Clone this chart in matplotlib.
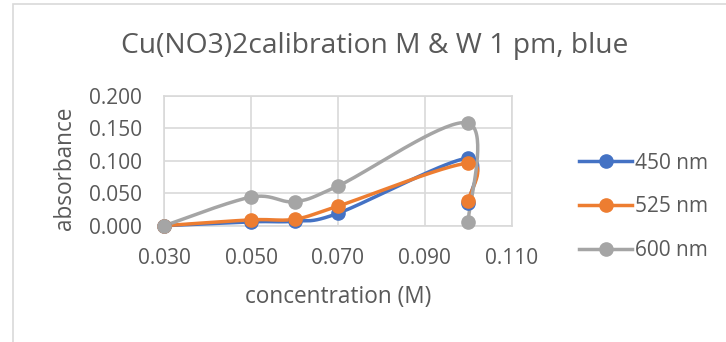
import numpy as np
import matplotlib
matplotlib.use("Agg")
import matplotlib.pyplot as plt
from matplotlib.patches import Rectangle

conc = [0.03, 0.05, 0.06, 0.07, 0.10, 0.10]
abs_450 = [0.000, 0.006, 0.007, 0.019, 0.104, 0.035]
abs_525 = [0.000, 0.009, 0.010, 0.030, 0.096, 0.038]
abs_600 = [0.000, 0.044, 0.037, 0.061, 0.158, 0.005]
series_names = ["450 nm", "525 nm", "600 nm"]
colors = ["#4472C4", "#ED7D31", "#A5A5A5"]
x_ticks = [0.03, 0.05, 0.07, 0.09, 0.11]
y_ticks = [0.0, 0.05, 0.10, 0.15, 0.20]
title = "Cu(NO3)2calibration M & W 1 pm, blue"

plt.rcParams['font.family'] = ['Open Sans', 'DejaVu Sans']
W, H = 726, 342
fig = plt.figure(figsize=(W / 100, H / 100), dpi=100)
fig.patch.set_facecolor("white")

# chart frame
fig.add_artist(Rectangle((12.5 / W, -0.1), 1.2, 1.1 - 4.5 / H, transform=fig.transFigure,
                         fill=False, edgecolor="#D9D9D9", linewidth=1.2))

L, R, T, B = 164.3, 511.5, 95.7, 225.7
ax = fig.add_axes([L / W, 1 - B / H, (R - L) / W, (B - T) / H])
ax.set_xlim(0.03, 0.11)
ax.set_ylim(0.0, 0.2)
ax.set_xticks(x_ticks)
ax.set_yticks(y_ticks)
ax.set_xticklabels([f"{v:.3f}" for v in x_ticks])
ax.set_yticklabels([f"{v:.3f}" for v in y_ticks])
ax.tick_params(length=0, labelsize=15, labelcolor="#595959", pad=16)
ax.grid(True, color="#D9D9D9", linewidth=1.2)
ax.set_axisbelow(True)
for s in ax.spines.values():
    s.set_color("#D9D9D9")
    s.set_linewidth(1.2)


def smooth(xs, ys, n=40):
    pts = ax.transData.transform(np.column_stack([xs, ys]))
    P = np.vstack([pts[0], pts, pts[-1]])
    out = []
    for i in range(1, len(P) - 2):
        p0, p1, p2, p3 = P[i - 1], P[i], P[i + 1], P[i + 2]
        c1 = p1 + (p2 - p0) / 6.0
        c2 = p2 - (p3 - p1) / 6.0
        t = np.linspace(0, 1, n)[:, None]
        seg = ((1 - t) ** 3) * p1 + 3 * ((1 - t) ** 2) * t * c1 + 3 * (1 - t) * t ** 2 * c2 + t ** 3 * p2
        out.append(seg if i == 1 else seg[1:])
    d = np.vstack(out)
    return ax.transData.inverted().transform(d).T


handles = []
for ys, name, c in zip([abs_450, abs_525, abs_600], series_names, colors):
    sx, sy = smooth(conc, ys)
    ax.plot(sx, sy, color=c, linewidth=2.5, solid_capstyle="round", zorder=3, clip_on=False)
    ax.plot(conc, ys, linestyle="none", marker="o", markersize=9.5, color=c, zorder=4, clip_on=False)
    h, = ax.plot([], [], color=c, linewidth=2.5, marker="o", markersize=9.5, label=name)
    handles.append(h)

fig.text(375 / W, 1 - 46 / H, title, ha="center", va="center", fontsize=20.3, color="#595959")
fig.text(338 / W, 1 - 297 / H, "concentration (M)", ha="center", va="center", fontsize=16.3, color="#595959")
fig.text(65 / W, 1 - 168 / H, "absorbance", ha="center", va="center", rotation=90, fontsize=16.3, color="#595959")

leg = fig.legend(handles=handles, loc="center left", bbox_to_anchor=(579 / W, 1 - 207 / H),
                 frameon=False, fontsize=15, labelcolor="#595959", handlelength=2.55,
                 handletextpad=0.15, labelspacing=1.1, borderpad=0, borderaxespad=0)

fig.savefig("out.png", dpi=100)
